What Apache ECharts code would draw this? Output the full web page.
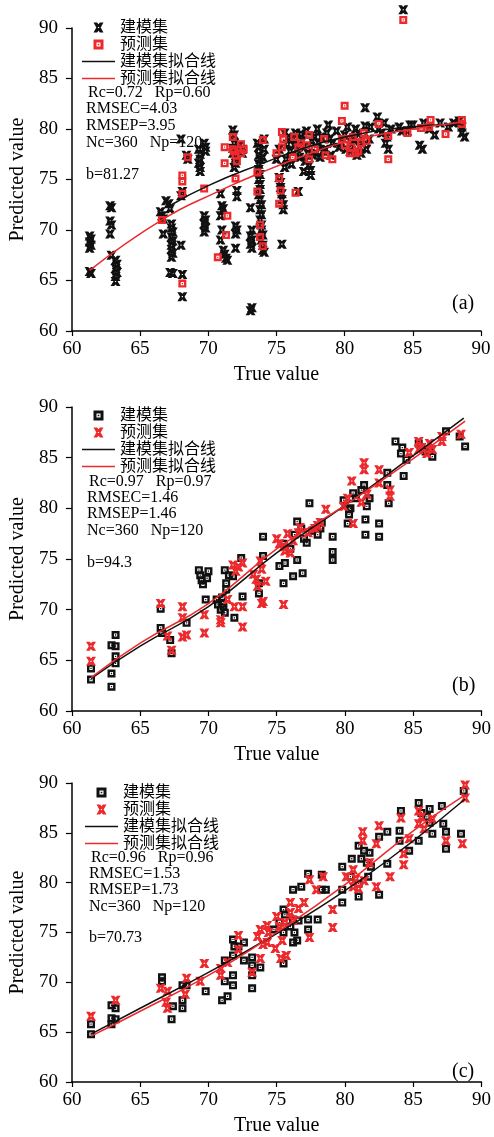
<!DOCTYPE html>
<html>
<head>
<meta charset="utf-8">
<script src="https://cdn.jsdelivr.net/npm/echarts@6/dist/echarts.min.js"></script>
<style>
    html, body { margin: 0; padding: 0; background: #fff; }
    #main { width: 494px; height: 1137px; }
</style>
</head>
<body>
<div id="main"></div>
<script>
// ---- data ----
// panel (a)
const trainA = [
    [61.3,69.4],[61.4,69.1],[61.3,68.8],[61.4,68.5],[61.3,68.2],[61.4,65.7],[61.3,65.9],
    [62.8,72.4],[62.9,72.2],[62.8,70.9],[62.9,70.5],[62.8,69.6],[62.9,67.5],
    [63.2,67.0],[63.3,66.6],[63.2,66.2],[63.3,65.8],[63.2,65.4],[63.2,64.9],
    [66.5,71.8],[66.6,71.4],[66.7,71.1],[66.7,69.6],[66.9,72.9],[67.1,72.6],[67.2,72.1],[67.3,70.6],[67.3,70.2],[67.4,69.8],
    [67.3,69.3],[67.4,68.9],[67.3,68.5],[67.3,68.1],[67.4,67.7],[67.3,67.3],[67.2,65.8],[67.4,65.7],
    [68.0,79.0],[68.1,73.8],[68.0,73.4],[68.0,68.5],[68.1,65.6],[68.1,63.4],[68.4,77.4],[68.5,77.0],
    [69.3,78.0],[69.4,77.5],[69.4,77.0],[69.3,76.6],[69.4,76.2],[69.4,75.8],[69.7,78.6],[69.8,78.2],[69.8,77.8],
    [69.7,71.4],[69.8,71.0],[69.7,70.6],[69.8,70.2],[69.7,69.8],
    [70.9,73.6],[71.0,72.4],[71.1,72.1],[70.9,71.4],[71.0,70.0],[70.9,69.0],[71.1,68.0],[71.2,67.6],[71.3,67.2],[71.4,67.0],
    [71.8,79.9],[71.9,79.4],[71.9,78.6],[71.8,78.1],[71.8,77.6],[72.0,77.1],[72.0,76.6],[71.9,76.2],[72.1,73.9],[72.1,73.3],
    [72.0,70.4],[72.1,70.0],[72.0,69.6],[72.0,68.2],[72.3,78.4],[72.5,78.0],[72.5,77.6],
    [73.1,72.2],[73.2,70.0],[73.1,69.4],[73.2,69.0],[73.1,68.6],[73.2,68.2],[73.2,62.3],[73.1,62.0],
    [73.6,78.6],[73.7,78.2],[73.7,77.4],[73.8,77.0],[73.7,76.5],[73.7,76.0],[73.8,75.5],[73.7,75.0],[73.8,74.5],[73.8,74.0],
    [73.7,73.5],[73.8,73.0],[73.9,72.5],[73.8,72.0],[73.9,71.5],[73.8,71.0],[73.9,70.5],[73.9,70.0],[74.0,69.5],[73.9,69.0],
    [74.0,68.5],[74.0,68.0],[74.1,67.8],[74.1,79.0],[74.1,78.0],[74.0,77.2],
    [75.2,75.2],[75.3,74.7],[75.3,74.2],[75.4,73.6],[75.4,73.0],[75.5,72.5],[75.5,72.0],[75.4,68.6],
    [75.0,77.0],[75.2,78.0],[75.6,79.6],[75.7,77.0],[75.8,78.5],[76.0,77.8],[76.1,76.5],[76.2,79.0],[76.4,79.6],[76.5,78.0],
    [76.6,73.8],[76.7,77.2],[76.8,79.5],[77.0,78.2],[77.1,76.8],[77.2,79.8],[77.4,76.4],[77.5,75.9],[77.5,75.4],[77.6,78.8],
    [77.7,77.4],[77.9,77.6],[78.0,80.0],[78.1,78.6],[78.3,79.2],[78.4,77.8],[78.6,78.0],[78.7,79.6],[78.8,80.4],[79.0,77.4],[79.1,78.6],
    [75.9,79.2],[76.3,78.4],[76.9,78.8],[77.3,77.6],[77.8,79.2],[78.2,77.2],[78.9,79.0],[75.6,76.2],[77.0,75.8],
    [79.4,79.8],[79.6,78.2],[79.8,78.6],[80.0,79.4],[80.2,80.2],[80.4,77.8],[80.5,78.6],[80.7,78.9],[80.8,80.0],[81.0,79.6],
    [81.1,78.2],[81.2,77.6],[81.3,79.0],[81.5,80.3],[81.5,82.1],[81.8,79.0],[81.9,80.2],[80.1,78.0],[80.9,77.4],[81.6,78.0],
    [82.4,81.2],[82.5,80.0],[82.7,79.6],[82.9,80.6],[83.0,78.6],[83.2,78.0],[83.1,79.2],[83.4,80.0],[84.0,80.2],[84.2,79.8],
    [84.3,91.8],[84.6,79.8],[84.8,80.4],[85.0,80.4],[85.5,78.4],[85.7,78.0],[85.8,80.6],[86.2,80.0],[86.6,79.4],[87.0,80.6],
    [87.6,80.2],[88.0,80.6],[88.4,80.8],[88.6,79.6],[88.8,79.2],[88.6,80.2]
];
const testA = [
    [66.6,71.0],[68.1,75.4],[68.1,74.8],[68.1,73.6],[68.1,64.7],[68.5,77.2],[69.7,74.1],[70.7,67.3],
    [71.2,78.2],[71.2,76.6],[71.4,71.4],[71.3,69.5],[71.8,79.2],[71.8,78.0],[72.0,77.4],[72.4,78.5],[72.4,77.6],[72.0,75.1],
    [71.9,77.8],[72.1,76.8],[72.6,78.0],
    [73.6,75.7],[73.6,73.8],[73.8,70.5],[73.8,69.3],[74.0,68.4],[74.0,78.9],[75.0,77.6],[75.2,75.1],[75.3,73.9],[75.2,72.6],
    [75.4,79.7],[75.4,78.2],[75.5,79.0],[76.3,79.2],[76.2,77.2],[76.4,73.7],[76.6,78.2],[76.8,78.6],[77.2,78.4],[77.4,79.4],
    [77.4,77.0],[77.8,78.0],[78.5,79.0],[78.6,77.4],[79.1,77.0],[79.8,80.8],[79.8,79.0],[80.0,82.3],[80.0,78.4],[80.2,79.0],
    [80.4,77.6],[80.5,78.2],[80.6,79.2],[80.8,77.6],[81.0,77.8],[81.2,78.6],[81.4,79.6],[81.6,78.8],[82.5,80.5],
    [83.2,79.3],[83.2,77.0],[84.6,79.6],[84.3,90.8],[85.6,80.1],[86.2,80.2],[86.3,80.9],[87.4,79.5],[88.6,80.5],[88.6,80.9]
];
const fitTrainA = [[67.3,72.5],[70,74.4],[74,76.6],[77,78.1],[80,79.2],[84,80.1],[88.5,80.5]];
const fitTestA = [[61.3,66.0],[66.6,71.0],[70.7,73.8],[73.9,75.7],[77.5,77.6],[80,78.7],[83.6,79.7],[88.7,80.7]];

// panel (b)
const trainB = [
    [61.4,64.2],[61.4,63.1],[62.9,66.5],[62.9,63.7],[62.9,62.4],[63.2,67.5],[63.2,66.4],[63.2,65.4],[63.2,64.7],
    [66.5,70.1],[66.5,68.2],[66.6,67.7],[67.2,67.0],[67.3,65.7],[68.4,68.7],
    [69.3,73.9],[69.4,73.4],[69.5,72.9],[69.6,72.5],[69.9,73.1],[70.0,73.8],[69.8,71.0],
    [70.6,71.0],[70.7,70.5],[70.9,70.0],[71.0,71.2],[71.1,70.3],[71.2,69.7],[71.0,70.6],[71.2,73.9],[71.3,72.6],[71.3,72.0],
    [71.5,73.4],[71.8,73.3],[71.9,69.2],
    [72.4,75.1],[72.5,71.3],[74.0,77.2],[74.0,75.3],[73.7,72.6],[73.7,71.6],
    [75.2,74.3],[75.5,72.6],[75.6,74.6],[75.5,76.5],[76.0,76.0],[76.2,73.3],[76.3,77.4],[76.5,74.9],[76.9,73.6],
    [76.5,78.7],[76.8,78.0],[77.2,76.6],[77.4,80.5],[77.6,77.8],[77.0,77.0],[78.0,77.4],[78.2,78.0],[78.3,78.6],
    [79.1,77.2],[79.1,75.7],[79.1,74.9],
    [79.9,80.8],[80.3,79.4],[80.2,78.5],[80.3,79.9],[80.4,80.0],[80.6,81.5],[80.8,81.0],[81.2,81.8],[81.4,82.3],[81.6,80.2],
    [81.8,81.0],[81.5,78.9],[81.5,77.4],
    [82.5,78.5],[82.5,77.2],[83.1,83.5],[83.1,82.3],[83.2,80.5],
    [83.7,86.6],[84.1,85.4],[84.2,86.0],[84.5,84.8],[84.3,83.2],[85.4,86.4],[85.6,86.0],[85.9,85.6],[86.2,85.8],[86.4,85.1],
    [87.4,87.6],[88.4,87.1],[88.8,86.1]
];
const testB = [
    [61.4,66.4],[61.4,64.9],[66.5,70.6],[67.0,67.4],[67.3,66.0],[68.1,70.3],[68.1,69.2],[68.1,67.3],[68.4,67.5],
    [69.7,69.5],[69.7,67.7],[70.9,69.0],[70.9,68.7],[71.4,71.0],[71.8,74.4],[71.9,70.3],[72.0,73.8],[72.2,74.2],
    [72.5,74.6],[72.5,70.3],[72.5,68.3],[73.3,73.5],[73.5,73.0],[73.8,74.8],[73.9,74.0],[74.0,70.8],[74.2,72.8],[73.6,72.3],[73.9,70.6],
    [75.5,70.5],[75.0,77.0],[75.2,76.5],[75.5,76.2],[75.6,75.8],[76.0,75.6],[75.8,77.5],[76.2,76.8],[76.6,77.6],
    [76.7,78.1],[77.3,77.6],[77.8,78.0],[78.0,78.3],[78.2,78.6],[78.6,79.9],
    [79.9,80.2],[80.2,81.0],[80.5,82.7],[80.6,78.5],[81.2,80.6],[81.6,81.4],[81.4,84.5],[81.4,83.8],[82.5,83.8],[82.5,82.5],
    [83.3,81.8],[83.3,81.2],
    [84.7,85.5],[85.4,86.6],[85.4,85.8],[85.6,86.0],[86.0,85.4],[86.2,86.4],[86.4,85.8],[87.1,87.1],[87.1,86.6],[88.5,87.3]
];
const fitTrainB = [[61.4,63.2],[65,66.4],[70,70.3],[75,75.6],[80,80.3],[85,85.2],[88.7,88.9]];
const fitTestB = [[61.4,63.3],[65,66.7],[70,70.6],[75,76.0],[80,80.3],[85,84.9],[88.8,88.6]];

// panel (c)
const trainC = [
    [61.4,65.8],[61.4,64.8],[62.9,67.7],[62.9,66.4],[62.9,65.8],[63.2,67.4],[63.2,66.3],
    [66.6,70.5],[66.6,70.1],[67.4,67.6],[67.3,66.3],[68.1,69.7],[68.1,68.2],[68.1,67.4],[68.4,69.7],
    [69.8,69.1],[71.0,68.2],[71.4,68.6],[71.2,72.2],[71.2,70.1],
    [71.8,74.3],[71.9,73.6],[71.8,72.7],[71.8,70.7],[71.8,69.7],[72.2,73.6],[72.6,74.0],[72.6,72.2],
    [73.2,72.5],[73.2,71.7],[73.2,70.7],[73.2,69.4],[73.8,71.5],[74.8,75.3],
    [75.2,76.0],[75.5,77.3],[75.5,75.0],[75.5,71.9],[75.6,76.8],[76.0,75.6],[76.2,79.3],[76.2,76.3],[76.2,74.0],[76.3,75.0],
    [76.5,74.2],[76.6,76.2],[76.8,79.6],
    [77.3,80.9],[77.3,76.3],[77.3,75.3],[78.0,76.3],[78.3,80.8],[78.3,79.3],[78.6,79.3],
    [79.8,81.6],[79.8,79.3],[79.8,78.0],[80.4,80.6],[80.5,82.4],[81.0,79.9],[81.0,83.7],[81.0,78.6],[81.2,82.4],[81.4,83.2],
    [81.6,82.0],[81.7,80.6],[81.8,83.0],[81.9,81.6],
    [82.5,78.8],[82.5,84.6],[83.1,85.1],[83.1,81.9],[84.0,85.2],[84.0,84.2],[84.1,87.2],[84.7,83.2],
    [85.4,88.0],[85.4,84.2],[85.6,87.0],[86.0,86.6],[86.2,87.4],[86.2,86.0],[86.4,84.9],[87.1,87.7],[87.2,85.9],[87.4,85.1],
    [87.4,83.4],[88.5,84.9],[88.7,89.2]
];
const testC = [
    [61.4,66.6],[63.2,68.2],[66.5,69.4],[67.0,69.1],[67.0,67.4],[66.9,68.0],[68.3,68.8],[68.4,70.4],
    [69.4,70.1],[69.7,71.9],[70.9,71.4],[70.9,70.7],[71.4,72.0],[72.2,74.7],[72.2,73.3],[73.2,71.0],
    [73.6,74.6],[73.8,75.3],[73.8,72.4],[74.0,73.8],[74.3,75.7],[74.3,74.0],[74.4,75.0],[74.9,73.4],[75.0,76.6],[75.2,75.6],
    [75.3,72.4],[75.4,74.2],[75.6,76.0],[75.7,72.7],[76.0,78.0],[76.0,77.0],[76.2,76.2],[76.6,77.4],[77.0,78.0],
    [77.4,80.3],[77.4,74.5],[77.9,79.3],[78.4,80.6],[79.1,77.3],[79.1,75.5],
    [80.1,80.6],[80.6,81.3],[80.6,79.6],[80.8,80.4],[81.0,79.4],[81.4,80.2],[81.8,82.0],[81.3,85.1],[81.3,84.2],
    [82.3,83.9],[82.3,79.6],[82.5,85.7],[83.3,80.6],
    [84.1,86.5],[84.3,82.9],[84.3,81.8],[84.7,84.4],[85.4,87.2],[85.4,85.9],[85.6,86.6],[85.8,85.4],[86.4,86.4],[87.4,84.2],
    [88.6,83.9],[88.8,89.8],[88.8,88.5]
];
const fitTrainC = [[61.4,64.8],[65,67.4],[70,71.0],[75,74.9],[80,79.2],[85,84.2],[88.8,88.4]];
const fitTestC = [[61.4,64.6],[65,67.1],[70,70.7],[75,75.0],[80,79.8],[85,85.2],[88.8,88.8]];

const statsA = ["Rc=0.72   Rp=0.60", "RMSEC=4.03", "RMSEP=3.95", "Nc=360   Np=120", "b=81.27"];
const statsB = ["Rc=0.97   Rp=0.97", "RMSEC=1.46", "RMSEP=1.46", "Nc=360   Np=120", "b=94.3"];
const statsC = ["Rc=0.96   Rp=0.96", "RMSEC=1.53", "RMSEP=1.73", "Nc=360   Np=120", "b=70.73"];

// ---- styles ----
const FONT = "'Liberation Serif', 'Noto Sans CJK SC', serif";
const BLACK = "#111";
const RED = "#ec2a2d";
// X 形标记（中心带小孔）
const X_MARK = "path://M0,0H3.6L5,1.8L6.4,0H10L7.2,5L10,10H6.4L5,8.2L3.6,10H0L2.8,5Z M4.4,4.4V5.6H5.6V4.4Z";
// 方形标记（内含白环）
const SQ_MARK = "path://M0,0H10V10H0Z M3,3V7H7V3Z M4.2,4.2H5.8V5.8H4.2Z";
// 图例中的线
const LINE_MARK = "path://M0,0H40V1.6H0Z";

const panels = [
    {
        grid: { left: 70, top: 28, width: 411, height: 303 },
        train: trainA, test: testA, fitTrain: fitTrainA, fitTest: fitTestA,
        trainSym: X_MARK, testSym: SQ_MARK, trainSize: [10, 9], testSize: 8,
        legendLeft: 77, legendTop: 14,
        stats: statsA, statsX: 86, statsY: [93, 109, 126, 143, 175],
        tag: "(a)", tagY: 305
    },
    {
        grid: { left: 70, top: 407, width: 413, height: 304 },
        train: trainB, test: testB, fitTrain: fitTrainB, fitTest: fitTestB,
        trainSym: SQ_MARK, testSym: X_MARK, trainSize: 8, testSize: [10, 9],
        legendLeft: 77, legendTop: 402,
        stats: statsB, statsX: 87, statsY: [482, 498, 514, 531, 563],
        tag: "(b)", tagY: 687
    },
    {
        grid: { left: 70, top: 783, width: 413, height: 304 },
        train: trainC, test: testC, fitTrain: fitTrainC, fitTest: fitTestC,
        trainSym: SQ_MARK, testSym: X_MARK, trainSize: 8, testSize: [10, 9],
        legendLeft: 80, legendTop: 779,
        stats: statsC, statsX: 89, statsY: [858, 874, 890, 907, 938],
        tag: "(c)", tagY: 1073
    }
];

let grids = [], xAxes = [], yAxes = [], series = [], legends = [], graphics = [];

panels.forEach((p, i) => {
    grids.push(p.grid);
    xAxes.push({
        gridIndex: i,
        type: "value",
        min: 60, max: 90, interval: 5,
        name: "True value",
        nameLocation: "middle",
        nameGap: 34,
        nameTextStyle: { fontFamily: FONT, fontSize: 20, color: "#000" },
        axisLine: { lineStyle: { color: "#000", width: 1.5 } },
        axisTick: { length: 5, lineStyle: { color: "#000", width: 1.2 } },
        axisLabel: { fontFamily: FONT, fontSize: 19, color: "#000", margin: 9 },
        splitLine: { show: false }
    });
    yAxes.push({
        gridIndex: i,
        type: "value",
        min: 60, max: 90, interval: 5,
        name: "Predicted value",
        nameLocation: "middle",
        nameRotate: 90,
        nameGap: 42,
        nameTextStyle: { fontFamily: FONT, fontSize: 20, color: "#000" },
        axisLine: { show: true, lineStyle: { color: "#000", width: 1.5 } },
        axisTick: { show: true, length: 6, lineStyle: { color: "#000", width: 1.2 } },
        axisLabel: { fontFamily: FONT, fontSize: 19, color: "#000", margin: 14 },
        splitLine: { show: false }
    });

    // 散点
    series.push({
        name: "建模集", type: "scatter", xAxisIndex: i, yAxisIndex: i,
        symbol: p.trainSym, symbolSize: p.trainSize, clip: false,
        itemStyle: { color: BLACK, opacity: 1 },
        data: p.train
    });
    series.push({
        name: "预测集", type: "scatter", xAxisIndex: i, yAxisIndex: i,
        symbol: p.testSym, symbolSize: p.testSize, clip: false,
        itemStyle: { color: RED, opacity: 1 },
        data: p.test
    });
    // 拟合线
    series.push({
        name: "建模集拟合线", type: "line", xAxisIndex: i, yAxisIndex: i,
        smooth: true, symbol: "none",
        lineStyle: { color: BLACK, width: 1.5 },
        itemStyle: { color: BLACK },
        data: p.fitTrain
    });
    series.push({
        name: "预测集拟合线", type: "line", xAxisIndex: i, yAxisIndex: i,
        smooth: true, symbol: "none",
        lineStyle: { color: RED, width: 1.5 },
        itemStyle: { color: RED },
        data: p.fitTest
    });

    legends.push({
        orient: "vertical",
        left: p.legendLeft,
        top: p.legendTop,
        itemWidth: 33,
        itemHeight: 10,
        itemGap: 0,
        selectedMode: false,
        textStyle: { fontFamily: FONT, fontSize: 16, color: "#000", lineHeight: 17 },
        data: [
            { name: "建模集", icon: p.trainSym, itemStyle: { color: BLACK } },
            { name: "预测集", icon: p.testSym, itemStyle: { color: RED } },
            { name: "建模集拟合线", icon: LINE_MARK, itemStyle: { color: BLACK } },
            { name: "预测集拟合线", icon: LINE_MARK, itemStyle: { color: RED } }
        ]
    });

    p.stats.forEach((t, k) => {
        graphics.push({
            type: "text",
            left: k === 0 ? p.statsX + 2 : p.statsX,
            top: p.statsY[k] - 8,
            style: { text: t, font: "16px " + FONT, fill: "#000" }
        });
    });
    graphics.push({
        type: "text",
        left: 452,
        top: p.tagY - 11,
        style: { text: p.tag, font: "20px " + FONT, fill: "#000" }
    });
});

let myChart = echarts.init(document.getElementById("main"));
let option = {
    backgroundColor: "#fff",
    animation: false,
    grid: grids,
    xAxis: xAxes,
    yAxis: yAxes,
    legend: legends,
    graphic: graphics,
    series: series
};
myChart.setOption(option);
</script>
</body>
</html>
